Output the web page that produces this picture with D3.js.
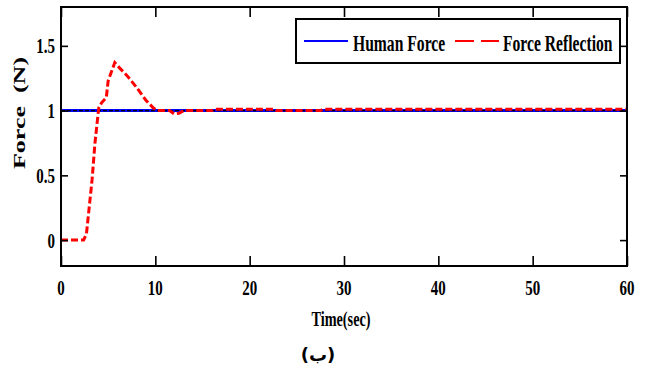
<!DOCTYPE html>
<html><head><meta charset="utf-8">
<script src="https://cdn.jsdelivr.net/npm/d3@7"></script>
<style>body{margin:0;background:#fff}svg{display:block}</style>
</head><body>
<script>
const humanT = [0, 60];
const humanV = [1, 1];
const reflT = [0, 2.4, 2.7, 3.1, 3.3, 3.6, 4.0, 4.3, 4.8, 5.0, 5.5, 5.7, 6.2, 7.0, 8.0, 9.0, 9.8, 10.2, 11.5, 12.0, 12.5, 13.0, 16.0, 16.3, 22.5, 22.8, 27.5, 27.8, 60];
const reflV = [0, 0, 0.05, 0.33, 0.47, 0.75, 1.02, 1.06, 1.1, 1.23, 1.33, 1.37, 1.33, 1.27, 1.18, 1.08, 1.02, 1.0, 1.0, 0.975, 0.98, 1.0, 1.0, 1.01, 1.01, 1.0, 1.0, 1.01, 1.01];
const xTicks = [0, 10, 20, 30, 40, 50, 60];
const yTicks = [0, 0.5, 1, 1.5];
const yTickLabels = ["0", "0.5", "1", "1.5"];
const seriesNames = ["Human Force", "Force Reflection"];

const W = 649, H = 371;
const svg = d3.select("body").append("svg").attr("width", W).attr("height", H);
const x = d3.scaleLinear().domain([0, 60]).range([61, 627]);
const y = d3.scaleLinear().domain([-0.2, 1.8]).range([266, 7]);
const SX = 0.68;
const font = "'Liberation Serif', 'Times New Roman', serif";

const line = d3.line().x(d => x(d[0])).y(d => y(d[1]));
const human = humanT.map((t, i) => [t, humanV[i]]);
const refl = reflT.map((t, i) => [t, reflV[i]]);

svg.append("path").attr("d", line(human)).attr("fill", "none").attr("stroke", "#0000ff").attr("stroke-width", 3);
svg.append("path").attr("d", line(human)).attr("fill", "none").attr("stroke", "#000").attr("stroke-width", 1.3).attr("stroke-dasharray", "4,2");
svg.append("path").attr("d", line(refl)).attr("fill", "none").attr("stroke", "#ff0000").attr("stroke-width", 3).attr("stroke-dasharray", "7,3");

// axes (ticks inside, mirrored)
const gB = svg.append("g").attr("transform", `translate(0,${y(-0.2)})`)
  .call(d3.axisBottom(x).tickValues(xTicks).tickSizeInner(-10).tickSizeOuter(0).tickFormat(() => ""));
const gT = svg.append("g").attr("transform", `translate(0,${y(1.8)})`)
  .call(d3.axisTop(x).tickValues(xTicks).tickSizeInner(-10).tickSizeOuter(0).tickFormat(() => ""));
const gL = svg.append("g").attr("transform", `translate(${x(0)},0)`)
  .call(d3.axisLeft(y).tickValues(yTicks).tickSizeInner(-7).tickSizeOuter(0).tickFormat(() => ""));
const gR = svg.append("g").attr("transform", `translate(${x(60)},0)`)
  .call(d3.axisRight(y).tickValues(yTicks).tickSizeInner(-7).tickSizeOuter(0).tickFormat(() => ""));
[gB, gT, gL, gR].forEach(g => {
  g.select(".domain").remove();
  g.selectAll(".tick line").attr("stroke", "#000").attr("stroke-width", 1.6);
});
svg.append("rect").attr("x", x(0)).attr("y", y(1.8)).attr("width", x(60) - x(0)).attr("height", y(-0.2) - y(1.8))
  .attr("fill", "none").attr("stroke", "#000").attr("stroke-width", 2);

function ctext(px, py, str, size, anchor) {
  return svg.append("text")
    .attr("transform", `translate(${px},${py}) scale(${SX},1)`)
    .attr("text-anchor", anchor).attr("font-family", font).attr("font-weight", "bold")
    .attr("font-size", size).attr("fill", "#000").text(str);
}
xTicks.forEach(t => ctext(x(t), 295, String(t), 22, "middle"));
yTicks.forEach((v, i) => ctext(55, y(v) + 7.5, yTickLabels[i], 22, "end"));

ctext(341, 326, "Time(sec)", 21, "middle");
svg.append("text")
  .attr("transform", `translate(25,113) rotate(-90) scale(1,${SX})`)
  .attr("text-anchor", "middle").attr("font-family", font).attr("font-weight", "bold")
  .attr("font-size", 26).style("white-space", "pre").text("Force  (N)");

svg.append("text").attr("x", 318).attr("y", 361).attr("text-anchor", "middle")
  .attr("font-family", "'DejaVu Sans', sans-serif").attr("font-weight", "bold").attr("font-size", 18).text("(ب)");

// legend
svg.append("rect").attr("x", 296).attr("y", 19).attr("width", 324).attr("height", 44)
  .attr("fill", "#fff").attr("stroke", "#000").attr("stroke-width", 2);
svg.append("line").attr("x1", 304).attr("x2", 348).attr("y1", 41).attr("y2", 41).attr("stroke", "#0000ff").attr("stroke-width", 2);
svg.append("line").attr("x1", 455).attr("x2", 499).attr("y1", 41).attr("y2", 41).attr("stroke", "#ff0000").attr("stroke-width", 2).attr("stroke-dasharray", "19,7");
ctext(353, 51, seriesNames[0], 23, "start");
ctext(503, 51, seriesNames[1], 23, "start");
</script>
</body></html>
